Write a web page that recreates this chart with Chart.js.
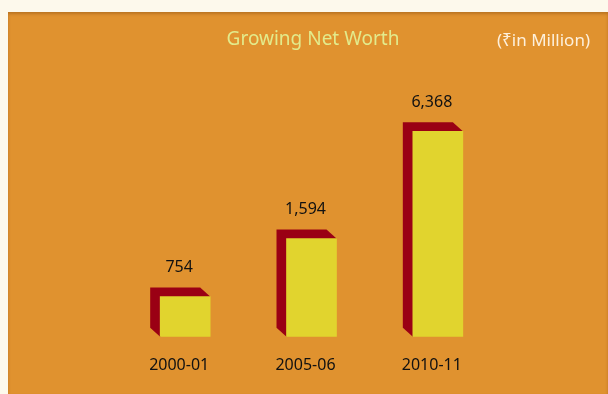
<!DOCTYPE html>
<html>
<head>
<meta charset="utf-8">
<script src="https://cdn.jsdelivr.net/npm/chart.js"></script>
<style>
  html, body { margin: 0; padding: 0; background: #fdf9ec; }
  #panel {
    position: absolute; left: 8px; top: 12px; width: 600px; height: 382px;
    background: #e0922f;
    box-shadow: inset 0 2px 3px rgba(140, 80, 20, 0.45);
  }
  canvas { display: block; }
</style>
</head>
<body>
<div id="panel"><canvas id="chart" width="600" height="382"></canvas></div>
<script>
const categories = ['2000-01', '2005-06', '2010-11'];
const netWorth = [754, 1594, 6368];
const titleText = 'Growing Net Worth';
const unitText = '(\u20B9in Million)';

const FONT = '"Noto Sans", "DejaVu Sans", sans-serif';

// dark red back/side of each box, drawn behind the yellow front face
const boxPlugin = {
  id: 'box3d',
  beforeDatasetsDraw(chart) {
    const ctx = chart.ctx;
    const dx = 10, dy = 9;
    chart.getDatasetMeta(0).data.forEach(bar => {
      const left = bar.x - bar.width / 2;
      const right = bar.x + bar.width / 2;
      ctx.save();
      ctx.fillStyle = '#9a0014';
      ctx.beginPath();
      ctx.moveTo(left, bar.base);
      ctx.lineTo(left - dx, bar.base - dy);
      ctx.lineTo(left - dx, bar.y - dy);
      ctx.lineTo(right - dx, bar.y - dy);
      ctx.lineTo(right, bar.y);
      ctx.closePath();
      ctx.fill();
      ctx.restore();
    });
  },
  afterDatasetsDraw(chart) {
    const ctx = chart.ctx;
    ctx.save();
    ctx.fillStyle = '#111';
    ctx.font = '16px ' + FONT;
    ctx.textAlign = 'center';
    ctx.textBaseline = 'middle';
    chart.getDatasetMeta(0).data.forEach((bar, i) => {
      ctx.fillText(netWorth[i].toLocaleString('en-US'), bar.x - 6, bar.y - 29);
    });
    ctx.restore();
  },
  afterDraw(chart) {
    const ctx = chart.ctx;
    ctx.save();
    ctx.textBaseline = 'middle';
    ctx.textAlign = 'center';
    ctx.fillStyle = '#e2eb8c';
    ctx.font = '19px ' + FONT;
    ctx.fillText(titleText, 305, 28);
    ctx.textAlign = 'right';
    ctx.fillStyle = '#fdf0dc';
    ctx.font = '17px ' + FONT;
    ctx.fillText(unitText, 582, 29);
    ctx.restore();
  }
};

new Chart(document.getElementById('chart'), {
  type: 'bar',
  data: {
    labels: categories,
    datasets: [{
      data: netWorth,
      backgroundColor: '#e1d42e',
      barThickness: 50
    }]
  },
  options: {
    responsive: false,
    animation: false,
    layout: { padding: { left: 114, right: 107, top: 50, bottom: 0 } },
    plugins: { legend: { display: false }, tooltip: { enabled: false } },
    scales: {
      x: {
        grid: { display: false, drawTicks: false },
        border: { display: false },
        ticks: { color: '#111', font: { size: 16, family: FONT }, padding: 19, labelOffset: -6 }
      },
      y: {
        type: 'logarithmic',
        display: false,
        min: 448,
        max: 15600
      }
    }
  },
  plugins: [boxPlugin]
});
</script>
</body>
</html>
